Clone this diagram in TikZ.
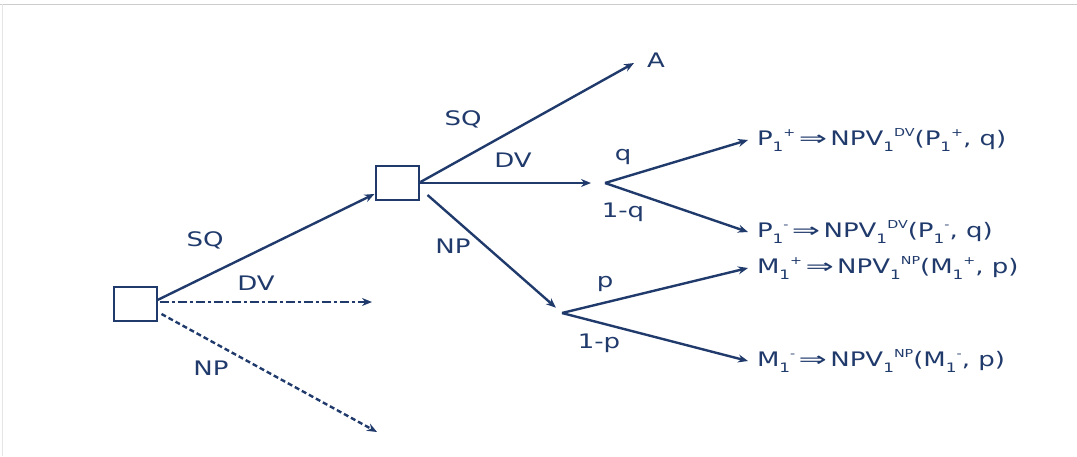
\documentclass[tikz,border=0pt]{standalone}
\usepackage{fontspec}
\setmainfont[FakeStretch=1.3]{DejaVu Sans}
\usepackage{graphicx}
\usetikzlibrary{arrows.meta,calc}
\definecolor{navy}{RGB}{32,58,108}
\newcommand{\sbsp}[2]{\raisebox{-0.55ex}{\fontsize{13}{13}\selectfont #1}\raisebox{0.85ex}{\fontsize{11}{11}\selectfont #2}}
\newcommand{\impl}{\,\scalebox{1.3}[1]{⇒}\,}
\tikzset{
  box/.style={draw=navy, line width=2pt, minimum width=43pt, minimum height=34pt, inner sep=0pt},
  arr/.style={draw=navy, line width=2.4pt, -{Stealth[length=10pt,width=8pt]}},
  dashdotarr/.style={arr, dash pattern=on 9pt off 3pt on 3pt off 3pt},
  dasharr/.style={arr, dash pattern=on 5pt off 3pt},
  lbl/.style={text=navy, font=\fontsize{20}{24}\selectfont, inner sep=0pt},
  term/.style={lbl, anchor=west, outer sep=9pt}
}
\begin{document}
\begin{tikzpicture}[x=1pt,y=-1pt]
\useasboundingbox (0,0) rectangle (1077,456);
\draw[black!20, line width=1pt] (0,4) -- (1077,4);
\draw[black!10, line width=1pt] (2,4) -- (2,456);
% decision nodes
\node[box] (r) at (135,304) {};
\node[box] (b) at (397,183) {};
% chance points
\coordinate (cq) at (605,183);
\coordinate (cp) at (562,313);
% free ends
\coordinate (rdv) at (372,302);
\coordinate (rnp) at (377,432);
\coordinate (ea) at (634,63);
% terminal labels
\node[lbl] (A) at (656,60) {A};
\node[term] (t1) at (748,140) {P\sbsp{1}{+}\impl NPV\sbsp{1}{DV}(P\sbsp{1}{+}, q)};
\node[term] (t2) at (748,232) {P\sbsp{1}{-}\impl NPV\sbsp{1}{DV}(P\sbsp{1}{-}, q)};
\node[term] (t3) at (748,268) {M\sbsp{1}{+}\impl NPV\sbsp{1}{NP}(M\sbsp{1}{+}, p)};
\node[term] (t4) at (748,361) {M\sbsp{1}{-}\impl NPV\sbsp{1}{NP}(M\sbsp{1}{-}, p)};
% root branches
\draw[arr] (r.east) ++(0,-4) -- (b);
\draw[dashdotarr] ($(r.east)+(2,-2)$) -- (rdv);
\draw[dasharr] ($(r.east)+(4,10)$) -- (rnp);
\node[lbl] (l1) at (205,240) {SQ};
\node[lbl] (l2) at (256,283) {DV};
\node[lbl] (l3) at (211,368) {NP};
% second decision branches
\draw[arr] ($(b.east)+(1,-1)$) -- (ea);
\draw[arr, shorten >=14pt] (b.east) -- (cq);
\draw[arr, shorten >=8pt] ($(b.south east)+(8,-6)$) -- (cp);
\node[lbl] (l4) at (463,119) {SQ};
\node[lbl] (l5) at (513,160) {DV};
\node[lbl] (l6) at (453,246) {NP};
% chance branches
\draw[arr] (cq) -- (t1.west);
\draw[arr] (cq) -- (t2.west);
\draw[arr] (cp) -- (t3.west);
\draw[arr] (cp) -- (t4.west);
\node[lbl] (l7) at (623,157) {q};
\node[lbl] (l8) at (623,212) {1-q};
\node[lbl] (l9) at (605,284) {p};
\node[lbl] (l10) at (599,343) {1-p};
\end{tikzpicture}
\end{document}
